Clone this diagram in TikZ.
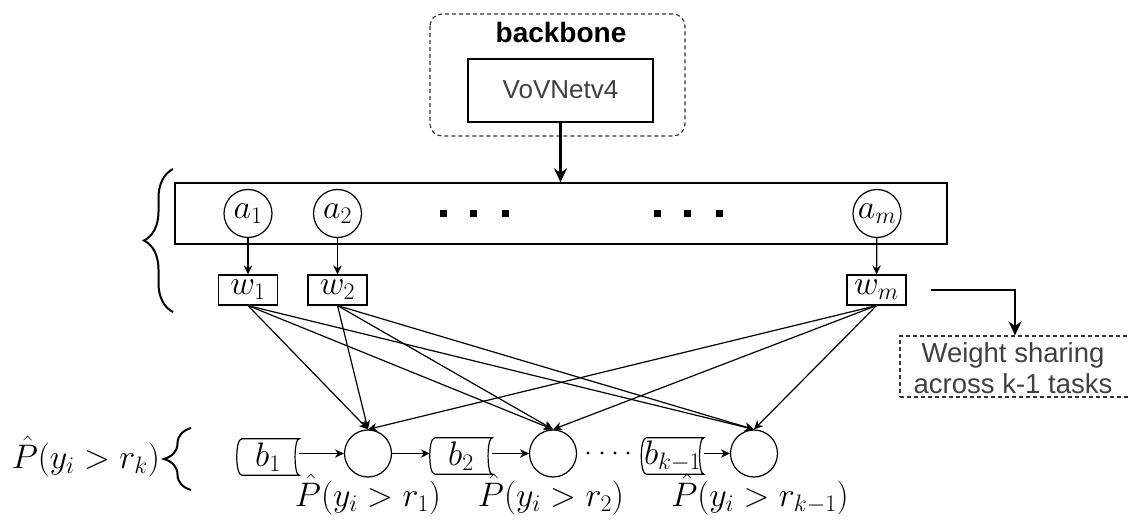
\RequirePackage{fix-cm}
\documentclass[tikz,border=0pt]{standalone}
\usepackage{fontspec}
\setsansfont{Liberation Sans}
\usetikzlibrary{arrows.meta,decorations.pathreplacing}

% large math labels
\newcommand\lblfont{\fontsize{34}{40}\selectfont}

\tikzset{
  thin/.style={line width=1.2pt},
  edge/.style={thin,-{Stealth[length=9pt,width=8.5pt]}},
  bigedge/.style={line width=2.3pt,-{Stealth[length=14pt,width=13pt]}},
  unit/.style={circle,draw,thin,minimum size=48pt,inner sep=0pt,font=\lblfont},
  outnode/.style={circle,draw,thin,minimum size=47pt,inner sep=0pt},
  wbox/.style={draw,thin,minimum width=59pt,minimum height=30pt,inner sep=0pt,font=\lblfont},
  tapetext/.style={minimum width=62pt,minimum height=40pt,inner sep=0pt,font=\lblfont},
  dashframe/.style={draw=black!80,line width=1.2pt,dash pattern=on 4pt off 3pt},
  sanslabel/.style={font=\sffamily\fontsize{27.5}{31}\selectfont,text=black!75},
  curly/.style={line width=2pt,decorate},
  problabel/.style={font=\lblfont,inner sep=0pt},
}

% storage-shaped box: rounded convex left side, concave right side
\newcommand\tapebox[3]{%
  \node[tapetext] (#1) at (#2) {#3};
  \draw[thin] ([shift={(5pt,-2pt)}]#1.north west) -- ([yshift=-2pt]#1.north east)
    .. controls ([shift={(-5.5pt,-2pt)}]#1.north east) and ([shift={(-5.5pt,2pt)}]#1.south east)
    .. ([yshift=2pt]#1.south east)
    -- ([shift={(5pt,2pt)}]#1.south west)
    .. controls ([shift={(-1.7pt,2pt)}]#1.south west) and ([shift={(-1.7pt,-2pt)}]#1.north west)
    .. ([shift={(5pt,-2pt)}]#1.north west) -- cycle;}

\begin{document}
\begin{tikzpicture}[x=1pt,y=-1pt]
\useasboundingbox (0,0) rectangle (1129,521);

% backbone
\draw[dashframe,rounded corners=12pt] (430,14) rectangle (685,136);
\node[font=\sffamily\bfseries\fontsize{28}{32}\selectfont,anchor=base,inner sep=0pt] (bbtitle) at (561,43) {backbone};
\node[draw,thin,minimum width=185pt,minimum height=63pt,inner sep=0pt] (vov) at (560.5,90.5) {};
\node[font=\sffamily\fontsize{26}{30}\selectfont,text=black!75,anchor=base,inner sep=0pt] (vovtext) at (560.5,99) {VoVNetv4};

% attribute layer
\node[draw,line width=1.4pt,minimum width=772pt,minimum height=61pt,inner sep=0pt] (layer) at (561,213.5) {};
\draw[bigedge] (vov.south) -- (vov.south |- layer.north);

\node[unit] (a1) at (248,213.5) {$a_1$};
\node[unit] (a2) at (337.5,213.5) {$a_2$};
\node[unit] (am) at (877,213.5) {$a_m$};

\foreach \x in {443,473,505,657,687,719}
  \fill (\x-3.5,210) rectangle (\x+3.5,217);

% weights
\node[wbox] (w1) at (248,290) {$w_1$};
\node[wbox] (w2) at (337.5,290) {$w_2$};
\node[wbox] (wm) at (876.5,290) {$w_m$};

\draw[edge] (a1) -- (w1);
\draw[edge] (a2) -- (w2);
\draw[edge] (am) -- (wm);

% weight sharing note
\node[dashframe,minimum width=230pt,minimum height=61pt,inner sep=0pt] (wsbox) at (1015,366.5) {};
\node[sanslabel,align=center,inner sep=0pt] (wstext) at (1013,368) {Weight sharing\\across k-1 tasks};
\coordinate (wsstart) at (931,290);
\draw[bigedge] (wsstart) -| (wsbox.north);

% outputs
\node[outnode] (c1) at (368,453.5) {};
\node[outnode] (c2) at (553,453.5) {};
\node[outnode] (c3) at (754,453.5) {};

\tapebox{b1}{268,457}{$b_1$}
\tapebox{b2}{461,456}{$b_2$}
\tapebox{b3}{672.5,456}{$b_{k-1}$}

\draw[edge] (b1.east |- c1) -- (c1);
\draw[edge] (c1) -- (b2.west |- c1);
\draw[edge] (b2.east |- c2) -- (c2);
\draw[edge] (b3.east |- c3) -- (c3);

\foreach \x in {588,602,615,628}
  \fill (\x,453) circle (1.7pt);

% fully connected weights to outputs
\foreach \w in {w1,w2,wm}
  \foreach \c in {c1,c2,c3}
    \draw[edge] (\w.south) -- (\c.north);

% output labels
\node[problabel,anchor=base] (p1) at (368,506) {$\hat P(y_i > r_1)$};
\node[problabel,anchor=base] (p2) at (551,506) {$\hat P(y_i > r_2)$};
\node[problabel,anchor=base] (p3) at (760,506) {$\hat P(y_i > r_{k-1})$};
\node[problabel,anchor=base east] (pk) at (160,468) {$\hat P(y_i > r_k)$};

% braces
\draw[curly,decoration={brace,amplitude=29pt}] (173,312) -- (173,169);
\draw[curly,decoration={brace,amplitude=27pt}] (191,490) -- (191,428);
\end{tikzpicture}
\end{document}
